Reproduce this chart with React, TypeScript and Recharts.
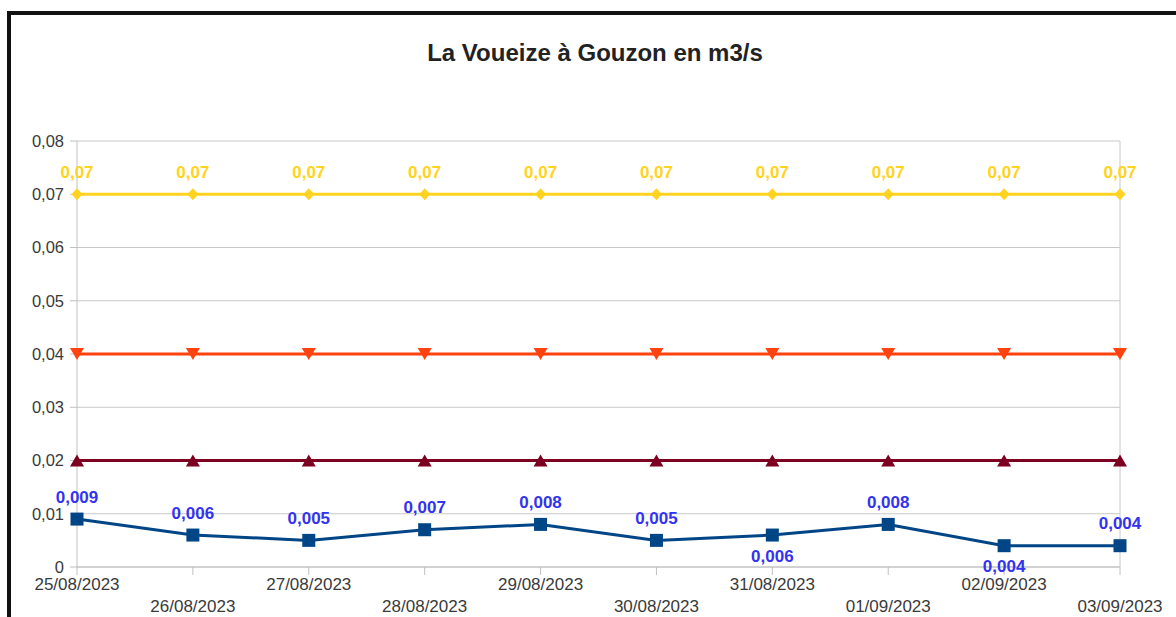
import React from "react";
import {
  CartesianGrid,
  LabelList,
  Line,
  LineChart,
  ReferenceLine,
  XAxis,
  YAxis,
} from "recharts";

const dates = [
  "25/08/2023",
  "26/08/2023",
  "27/08/2023",
  "28/08/2023",
  "29/08/2023",
  "30/08/2023",
  "31/08/2023",
  "01/09/2023",
  "02/09/2023",
  "03/09/2023",
];

const debit = [0.009, 0.006, 0.005, 0.007, 0.008, 0.005, 0.006, 0.008, 0.004, 0.004];
const seuilVigilance = [0.07, 0.07, 0.07, 0.07, 0.07, 0.07, 0.07, 0.07, 0.07, 0.07];
const seuilAlerte = [0.04, 0.04, 0.04, 0.04, 0.04, 0.04, 0.04, 0.04, 0.04, 0.04];
const seuilCrise = [0.02, 0.02, 0.02, 0.02, 0.02, 0.02, 0.02, 0.02, 0.02, 0.02];

const yTicks = [0, 0.01, 0.02, 0.03, 0.04, 0.05, 0.06, 0.07, 0.08];

// debit points whose value label sits under the marker
const debitLabelsBelow = ["31/08/2023", "02/09/2023"];

const data = dates.map((date, i) => ({
  date,
  debit: debit[i],
  vigilance: seuilVigilance[i],
  alerte: seuilAlerte[i],
  crise: seuilCrise[i],
}));

const FONT = "'Liberation Sans', Arial, sans-serif";
const fmt = (v: number) => String(v).replace(".", ",");

const SquareDot = (props: any) => {
  const { cx, cy } = props;
  if (cx == null || cy == null) return null;
  return <rect x={cx - 6.5} y={cy - 6.5} width={13} height={13} fill="#004586" />;
};

const DiamondDot = (props: any) => {
  const { cx, cy } = props;
  if (cx == null || cy == null) return null;
  return (
    <polygon
      points={`${cx},${cy - 6} ${cx + 5.5},${cy} ${cx},${cy + 6} ${cx - 5.5},${cy}`}
      fill="#ffd320"
    />
  );
};

const TriangleDown = (props: any) => {
  const { cx, cy } = props;
  if (cx == null || cy == null) return null;
  return (
    <polygon
      points={`${cx - 7},${cy - 6} ${cx + 7},${cy - 6} ${cx},${cy + 6}`}
      fill="#ff420e"
    />
  );
};

const TriangleUp = (props: any) => {
  const { cx, cy } = props;
  if (cx == null || cy == null) return null;
  return (
    <polygon
      points={`${cx - 7},${cy + 6} ${cx + 7},${cy + 6} ${cx},${cy - 6}`}
      fill="#7e0021"
    />
  );
};

const XTick = (props: any) => {
  const { x, y, payload, index } = props;
  return (
    <text
      x={x}
      y={y + (index % 2 === 0 ? 15 : 37)}
      textAnchor="middle"
      fill="#3a3a3a"
      fontSize={17}
      fontFamily={FONT}
    >
      {payload.value}
    </text>
  );
};

const makeLabel = (color: string, below: string[]) => (props: any) => {
  const { x, y, value, index } = props;
  const under = below.includes(dates[index]);
  return (
    <text
      x={x}
      y={under ? y + 21 : y - 22}
      textAnchor="middle"
      dominantBaseline="central"
      fill={color}
      fontSize={17}
      fontWeight="bold"
      fontFamily={FONT}
    >
      {fmt(value)}
    </text>
  );
};

const BlueLabel = makeLabel("#3333f0", debitLabelsBelow);
const YellowLabel = makeLabel("#ffd320", []);

export default function App() {
  return (
    <div
      style={{
        position: "fixed",
        left: 0,
        top: 0,
        width: 1176,
        height: 617,
        background: "#ffffff",
        overflow: "hidden",
        fontFamily: FONT,
      }}
    >
      <div
        style={{
          position: "absolute",
          left: 7,
          top: 11,
          width: 1300,
          height: 800,
          borderLeft: "4px solid #111",
          borderTop: "4px solid #111",
        }}
      />
      <div
        style={{
          position: "absolute",
          left: 0,
          top: 39,
          width: 1190,
          textAlign: "center",
          fontSize: 24,
          fontWeight: "bold",
          color: "#222",
        }}
      >
        La Voueize à Gouzon en m3/s
      </div>
      <div style={{ position: "absolute", left: 0, top: 0 }}>
        <LineChart
          width={1176}
          height={617}
          data={data}
          margin={{ top: 141, right: 56, left: 0, bottom: 0 }}
        >
          <CartesianGrid vertical={false} stroke="#c8c8c8" />
          <ReferenceLine x="03/09/2023" stroke="#c8c8c8" />
          <XAxis
            dataKey="date"
            height={50}
            stroke="#c0c0c0"
            tickSize={8}
            tickMargin={0}
            interval={0}
            tick={<XTick />}
          />
          <YAxis
            width={77}
            domain={[0, 0.08]}
            ticks={yTicks}
            stroke="#c0c0c0"
            tickSize={7}
            tickMargin={6}
            tickFormatter={fmt}
            tick={{ fill: "#3a3a3a", fontSize: 16.5, fontFamily: FONT }}
          />
          <Line
            dataKey="vigilance"
            stroke="#ffd320"
            strokeWidth={3}
            dot={<DiamondDot />}
            isAnimationActive={false}
          >
            <LabelList dataKey="vigilance" content={<YellowLabel />} />
          </Line>
          <Line
            dataKey="alerte"
            stroke="#ff420e"
            strokeWidth={3}
            dot={<TriangleDown />}
            isAnimationActive={false}
          />
          <Line
            dataKey="crise"
            stroke="#7e0021"
            strokeWidth={3}
            dot={<TriangleUp />}
            isAnimationActive={false}
          />
          <Line
            dataKey="debit"
            stroke="#004586"
            strokeWidth={3}
            dot={<SquareDot />}
            isAnimationActive={false}
          >
            <LabelList dataKey="debit" content={<BlueLabel />} />
          </Line>
        </LineChart>
      </div>
    </div>
  );
}
